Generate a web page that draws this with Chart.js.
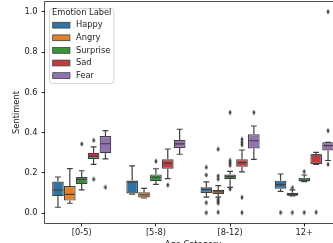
<!DOCTYPE html>
<html>
<head>
<meta charset="utf-8">
<script src="https://cdn.jsdelivr.net/npm/chart.js@4.4.1/dist/chart.umd.min.js"></script>
<style>
html, body { margin: 0; padding: 0; background: #fff; overflow: hidden; }
</style>
</head>
<body>
<canvas id="boxChart" width="350" height="260"></canvas>
<script>
const categories = ['[0-5)', '[5-8)', '[8-12)', '12+'];
const emotions = ['Happy', 'Angry', 'Surprise', 'Sad', 'Fear'];
const yTicks = [0.0, 0.2, 0.4, 0.6, 0.8, 1.0];

// [low whisker, Q1, median, Q3, high whisker] per age category
const happyStats = [[0.03, 0.085, 0.115, 0.158, 0.18], [0.095, 0.098, 0.155, 0.163, 0.235], [0.08, 0.101, 0.119, 0.129, 0.156], [0.109, 0.122, 0.142, 0.162, 0.195]];
const angryStats = [[0.05, 0.063, 0.094, 0.135, 0.222], [0.076, 0.079, 0.092, 0.104, 0.124], [0.08, 0.096, 0.106, 0.116, 0.137], [0.086, 0.087, 0.093, 0.102, 0.116]];
const surpriseStats = [[0.116, 0.145, 0.168, 0.18, 0.211], [0.144, 0.159, 0.179, 0.193, 0.221], [0.129, 0.169, 0.182, 0.192, 0.208], [0.157, 0.158, 0.165, 0.177, 0.19]];
const sadStats = [[0.243, 0.27, 0.284, 0.30, 0.33], [0.172, 0.221, 0.248, 0.268, 0.319], [0.206, 0.231, 0.251, 0.268, 0.314], [0.243, 0.245, 0.29, 0.293, 0.302]];
const fearStats = [[0.27, 0.298, 0.345, 0.383, 0.41], [0.293, 0.324, 0.344, 0.364, 0.417], [0.268, 0.322, 0.36, 0.392, 0.433], [0.262, 0.312, 0.336, 0.352, 0.352]];

// outliers per age category
const happyOutliers = [[], [], [0.228, 0.19, 0.053, 0.003], [0.004]];
const angryOutliers = [[], [], [0.318, 0.185, 0.17, 0.07, 0.06, 0.05, 0.005], [0.127, 0.004]];
const surpriseOutliers = [[0.344], [0.258], [0.5, 0.262, 0.25, 0.238, 0.12], [0.207, 0.004]];
const sadOutliers = [[0.362, 0.169], [0.14], [0.367, 0.352, 0.34, 0.079, 0.004], [0.005]];
const fearOutliers = [[0.129], [], [0.5], [1.0, 0.41, 0.243]];

const allStats = [happyStats, angryStats, surpriseStats, sadStats, fearStats];
const allOutliers = [happyOutliers, angryOutliers, surpriseOutliers, sadOutliers, fearOutliers];
const colors = ['#3274a1', '#e1812c', '#3a923a', '#c03d3e', '#9372b2'];
const gray = '#3f3f3f';
const textColor = '#222';
const fontFamily = "'DejaVu Sans', sans-serif";

// thin diamond marker for fliers
const diamond = document.createElement('canvas');
diamond.width = 4; diamond.height = 6;
const dctx = diamond.getContext('2d');
dctx.fillStyle = gray;
dctx.beginPath();
dctx.moveTo(2, 0.3); dctx.lineTo(3.6, 3); dctx.lineTo(2, 5.7); dctx.lineTo(0.4, 3);
dctx.closePath();
dctx.fill();

const boxSets = emotions.map((name, k) => ({
    label: name,
    data: allStats[k].map(s => [s[1], s[3]]),
    backgroundColor: colors[k],
    borderColor: gray,
    borderWidth: 1.2,
    borderSkipped: false,
    categoryPercentage: 0.8,
    barPercentage: 0.98
}));

const boxPlugin = {
    id: 'boxParts',
    afterDatasetsDraw(chart) {
        const ctx = chart.ctx;
        const y = chart.scales.y;
        ctx.save();
        ctx.strokeStyle = gray;
        ctx.lineWidth = 1.2;
        allStats.forEach((rows, k) => {
            chart.getDatasetMeta(k).data.forEach((bar, i) => {
                const [lo, q1, med, q3, hi] = rows[i];
                const half = bar.width / 2;
                const cap = bar.width / 4;
                ctx.beginPath();
                ctx.moveTo(bar.x, y.getPixelForValue(q3));
                ctx.lineTo(bar.x, y.getPixelForValue(hi));
                ctx.moveTo(bar.x, y.getPixelForValue(q1));
                ctx.lineTo(bar.x, y.getPixelForValue(lo));
                ctx.moveTo(bar.x - cap, y.getPixelForValue(hi));
                ctx.lineTo(bar.x + cap, y.getPixelForValue(hi));
                ctx.moveTo(bar.x - cap, y.getPixelForValue(lo));
                ctx.lineTo(bar.x + cap, y.getPixelForValue(lo));
                ctx.moveTo(bar.x - half + 1, y.getPixelForValue(med));
                ctx.lineTo(bar.x + half - 1, y.getPixelForValue(med));
                ctx.stroke();
                // fliers
                allOutliers[k][i].forEach(v => {
                    ctx.drawImage(diamond, bar.x - 2, y.getPixelForValue(v) - 3);
                });
            });
        });
        ctx.restore();
    },
    afterDraw(chart) {
        const ctx = chart.ctx;
        const a = chart.chartArea;
        ctx.save();
        // frame
        ctx.strokeStyle = '#222';
        ctx.lineWidth = 0.8;
        ctx.strokeRect(a.left, a.top, a.right - a.left, a.bottom - a.top);
        // legend
        const lx = 49.5, ly = 8.5, lw = 64.5, lh = 75;
        ctx.beginPath();
        ctx.roundRect(lx, ly, lw, lh, 3);
        ctx.fillStyle = 'rgba(255,255,255,0.8)';
        ctx.fill();
        ctx.strokeStyle = '#cccccc';
        ctx.stroke();
        ctx.font = '8.3px ' + fontFamily;
        ctx.fillStyle = textColor;
        ctx.textBaseline = 'middle';
        ctx.textAlign = 'center';
        ctx.fillText('Emotion Label', lx + lw / 2, 13.2);
        ctx.textAlign = 'left';
        emotions.forEach((name, k) => {
            const cy = 25.2 + k * 12.6;
            ctx.fillStyle = colors[k];
            ctx.fillRect(52.7, cy - 2.9, 17.2, 5.8);
            ctx.strokeStyle = gray;
            ctx.lineWidth = 0.8;
            ctx.strokeRect(52.7, cy - 2.9, 17.2, 5.8);
            ctx.fillStyle = textColor;
            ctx.fillText(name, 76, cy);
        });
        ctx.restore();
    }
};

new Chart(document.getElementById('boxChart'), {
    type: 'bar',
    data: {
        labels: categories,
        datasets: boxSets
    },
    options: {
        responsive: false,
        animation: false,
        layout: { padding: { top: 1.6, right: 8.6, left: 0, bottom: 0 } },
        plugins: {
            legend: { display: false },
            tooltip: { enabled: false }
        },
        scales: {
            x: {
                type: 'category',
                offset: true,
                grid: { offset: false, drawOnChartArea: false, tickLength: 3, color: '#222' },
                border: { display: false },
                ticks: { color: textColor, padding: 1.3, font: { family: fontFamily, size: 8.3 } },
                title: {
                    display: true, text: 'Age Category', color: textColor,
                    padding: { top: 0, bottom: 10 },
                    font: { family: fontFamily, size: 8.3 }
                },
                afterFit: s => { s.height = 36.6; s.paddingLeft = 0; s.paddingRight = 0; }
            },
            y: {
                min: -0.05,
                max: 1.05,
                grid: { drawOnChartArea: false, tickLength: 3, color: '#222' },
                border: { display: false },
                afterBuildTicks: s => { s.ticks = yTicks.map(v => ({ value: v })); },
                ticks: {
                    color: textColor, padding: 4,
                    font: { family: fontFamily, size: 8.3 },
                    callback: v => Number(v).toFixed(1)
                },
                title: {
                    display: true, text: 'Sentiment', color: textColor,
                    padding: { top: 12, bottom: 0 },
                    font: { family: fontFamily, size: 8.3 }
                },
                afterFit: s => { s.width = 44.6; s.paddingTop = 0; s.paddingBottom = 0; }
            }
        }
    },
    plugins: [boxPlugin]
});
</script>
</body>
</html>
